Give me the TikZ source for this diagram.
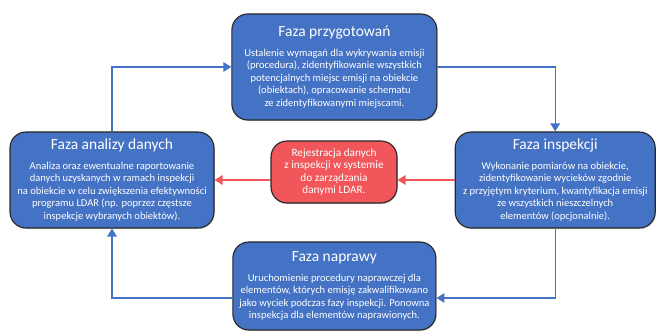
\documentclass[tikz,border=0pt]{standalone}
\usepackage{fontspec}
\setmainfont{Carlito}
\usepackage{tikz}
\usetikzlibrary{arrows.meta,positioning,calc,shadows}
\definecolor{phaseblue}{RGB}{68,114,196}
\definecolor{regred}{RGB}{240,86,90}
\definecolor{edgegray}{RGB}{40,40,40}
\newcommand{\phasetitle}[1]{{\fontsize{11}{13}\selectfont #1}}

\begin{document}
\begin{tikzpicture}[
  phase/.style={draw=edgegray, fill=phaseblue, line width=0.8pt,
    rounded corners=0.4cm, align=center, text=white, inner sep=1pt,
    font=\fontsize{7.5}{8.9}\selectfont,
    drop shadow={shadow xshift=0.6pt, shadow yshift=-0.8pt, opacity=0.35}},
  store/.style={phase, fill=regred, font=\fontsize{8}{8.9}\selectfont},
  cycle/.style={-{Triangle[length=2mm, width=2.4mm]}, line width=1pt, phaseblue},
  feed/.style={-{Triangle[length=2mm, width=2.4mm]}, line width=1pt, regred}
]
  \useasboundingbox (0,0) rectangle (16.4,8.35);

  % Phases
  \node[phase, minimum width=5.125cm, minimum height=2.65cm] (prep) at (8.36,6.675)
    {\phasetitle{Faza przygotowań}\\[5pt]
     Ustalenie wymagań dla wykrywania emisji\\
     (procedura), zidentyfikowanie wszystkich\\
     potencjalnych miejsc emisji na obiekcie\\
     (obiektach), opracowanie schematu\\
     ze zidentyfikowanymi miejscami.};
  \node[phase, minimum width=5.0cm, minimum height=2.4cm] (insp) at (13.88,3.85)
    {\phasetitle{Faza inspekcji}\\[5pt]
     Wykonanie pomiarów na obiekcie,\\
     zidentyfikowanie wycieków zgodnie\\
     z przyjętym kryterium, kwantyfikacja emisji\\
     ze wszystkich nieszczelnych\\
     elementów (opcjonalnie).};
  \node[phase, minimum width=5.075cm, minimum height=2.2cm] (repair) at (8.36,1.2)
    {\phasetitle{Faza naprawy}\\[5pt]
     Uruchomienie procedury naprawczej dla\\
     elementów, których emisję zakwalifikowano\\
     jako wyciek podczas fazy inspekcji. Ponowna\\
     inspekcja dla elementów naprawionych.};
  \node[phase, minimum width=5.1cm, minimum height=2.4cm] (analysis) at (2.8,3.85)
    {\phasetitle{Faza analizy danych}\\[5pt]
     Analiza oraz ewentualne raportowanie\\
     danych uzyskanych w ramach inspekcji\\
     na obiekcie w celu zwiększenia efektywności\\
     programu LDAR (np. poprzez częstsze\\
     inspekcje wybranych obiektów).};

  % Data register
  \node[store, minimum width=3.15cm, minimum height=1.55cm] (reg) at (8.35,4.05)
    {Rejestracja danych\\
     z inspekcji w systemie\\
     do zarządzania\\
     danymi LDAR.};

  % Cycle arrows
  \draw[cycle] (prep.east) -| (insp.north);
  \draw[cycle] (insp.south) |- ([yshift=-0.3cm]repair.east);
  \draw[cycle] ([yshift=-0.3cm]repair.west) -| (analysis.south);
  \draw[cycle] (analysis.north) |- (prep.west);

  % Data flow
  \draw[feed] (insp.west) -- (insp.west -| reg.east);
  \draw[feed] (reg.west |- analysis.east) -- (analysis.east);
\end{tikzpicture}
\end{document}
